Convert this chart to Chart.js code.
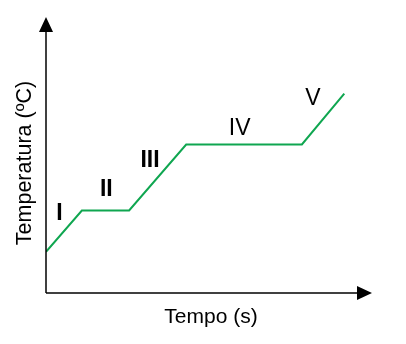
<!DOCTYPE html>
<html>
<head>
<meta charset="utf-8">
<script src="https://cdn.jsdelivr.net/npm/chart.js@4"></script>
<style>
  body { margin: 0; background: #fff; }
  #grafico { display: block; }
</style>
</head>
<body>
<canvas id="grafico" width="406" height="344"></canvas>
<script>
// dados da curva de aquecimento (unidades arbitrárias)
const tempo = [0, 1.1, 2.55, 4.3, 7.85, 9.15];
const temperatura = [1.5, 3, 3, 5.4, 5.4, 7.25];

// etapas (rótulos romanos)
const etapas = ['I', 'II', 'III', 'IV', 'V'];
const etapasX = [0.41, 1.85, 3.19, 5.94, 8.19];
const etapasY = [2.93, 3.81, 4.85, 6.03, 7.09];
const etapasNegrito = [true, true, true, false, false];

const tituloX = 'Tempo (s)';
const tituloY = 'Temperatura (ºC)';

const fonte = '"Liberation Sans", Arial, sans-serif';

// desenha os eixos com setas, títulos e os rótulos das etapas
const eixosComSeta = {
  id: 'eixosComSeta',
  afterDraw(chart) {
    const ctx = chart.ctx;
    const area = chart.chartArea;
    const sx = chart.scales.x;
    const sy = chart.scales.y;

    ctx.save();
    ctx.strokeStyle = '#000';
    ctx.fillStyle = '#000';
    ctx.lineWidth = 1.5;

    // eixo y
    ctx.beginPath();
    ctx.moveTo(area.left, area.bottom);
    ctx.lineTo(area.left, area.top + 10);
    ctx.stroke();
    ctx.beginPath();
    ctx.moveTo(area.left, area.top - 1);
    ctx.lineTo(area.left - 7, area.top + 14);
    ctx.lineTo(area.left + 7, area.top + 14);
    ctx.closePath();
    ctx.fill();

    // eixo x
    ctx.beginPath();
    ctx.moveTo(area.left, area.bottom);
    ctx.lineTo(area.right - 10, area.bottom);
    ctx.stroke();
    ctx.beginPath();
    ctx.moveTo(area.right, area.bottom);
    ctx.lineTo(area.right - 15, area.bottom - 7);
    ctx.lineTo(area.right - 15, area.bottom + 7);
    ctx.closePath();
    ctx.fill();

    // títulos
    ctx.font = '21px ' + fonte;
    ctx.textAlign = 'center';
    ctx.textBaseline = 'middle';
    ctx.fillText(tituloX, 211, 317);

    ctx.save();
    ctx.translate(25, 163);
    ctx.rotate(-Math.PI / 2);
    ctx.font = '21.5px ' + fonte;
    ctx.fillText(tituloY, 0, 0);
    ctx.restore();

    // rótulos das etapas
    etapas.forEach((txt, i) => {
      ctx.font = (etapasNegrito[i] ? 'bold ' : '') + '23px ' + fonte;
      ctx.fillText(txt, sx.getPixelForValue(etapasX[i]), sy.getPixelForValue(etapasY[i]) + 1);
    });

    ctx.restore();
  }
};

new Chart(document.getElementById('grafico'), {
  type: 'line',
  data: {
    datasets: [{
      data: tempo.map((t, i) => ({ x: t, y: temperatura[i] })),
      borderColor: '#0fa650',
      borderWidth: 2,
      pointRadius: 0,
      tension: 0,
      fill: false
    }]
  },
  options: {
    responsive: false,
    animation: false,
    events: [],
    layout: {
      padding: { left: 46, right: 34, top: 18, bottom: 51 }
    },
    plugins: {
      legend: { display: false },
      tooltip: { enabled: false }
    },
    scales: {
      x: { type: 'linear', min: 0, max: 10, display: false },
      y: { type: 'linear', min: 0, max: 10, display: false }
    }
  },
  plugins: [eixosComSeta]
});
</script>
</body>
</html>
